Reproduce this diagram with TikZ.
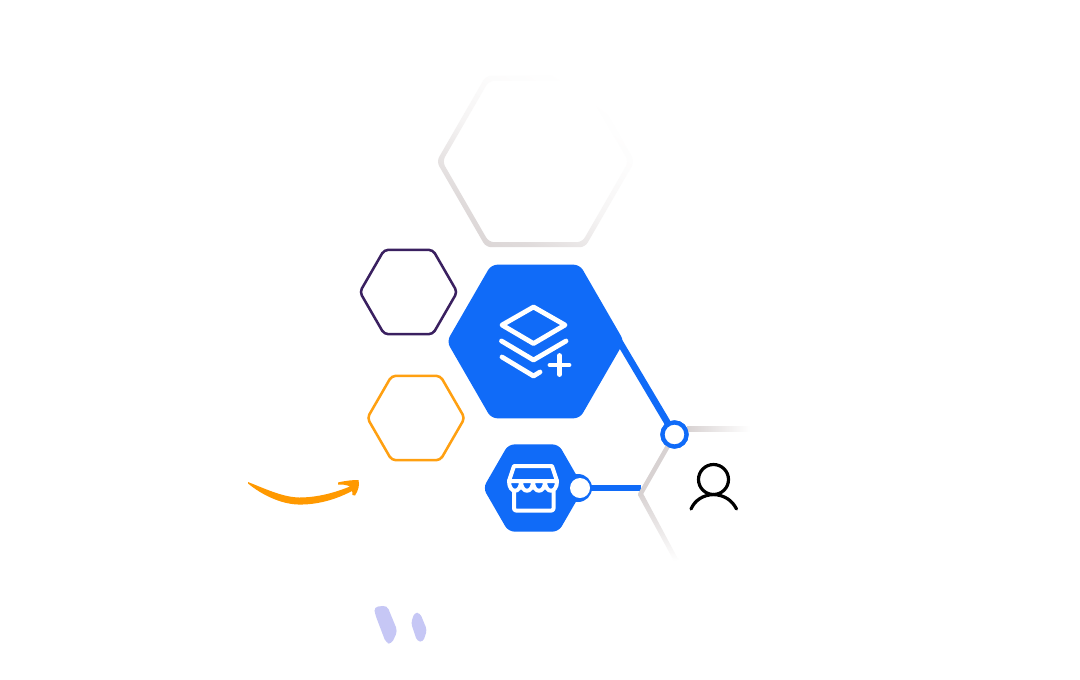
\documentclass[tikz,border=0pt]{standalone}
\usetikzlibrary{shapes.geometric}
\definecolor{brandblue}{HTML}{106BF8}
\definecolor{softgrey}{HTML}{D8D2D2}
\definecolor{plum}{HTML}{3A2060}
\definecolor{amber}{HTML}{FFA011}
\definecolor{smile}{HTML}{FF9900}
\definecolor{lav}{HTML}{C6C7F5}
\pgfdeclarehorizontalshading{hexfade}{100bp}{color(0bp)=(softgrey);color(16bp)=(softgrey);color(30bp)=(softgrey!80!white);color(48bp)=(softgrey!24!white);color(62bp)=(softgrey!7!white);color(74bp)=(white);color(100bp)=(white)}
\newcommand\hexring[3]{({#1-#3},#2) -- ({#1-#3/2},{#2-.866*#3}) -- ({#1+#3/2},{#2-.866*#3}) -- ({#1+#3},#2) -- ({#1+#3/2},{#2+.866*#3}) -- ({#1-#3/2},{#2+.866*#3}) -- cycle}
\tikzset{
  hexbase/.style={regular polygon,regular polygon sides=6,inner sep=0pt,outer sep=0pt},
  bluehex/.style={hexbase,fill=brandblue,rounded corners=4.5pt},
  linehex/.style={hexbase,draw=#1,fill=white,line width=1.9pt,rounded corners=3pt},
  blueline/.style={draw=brandblue,line width=5pt},
  greyline/.style={draw=softgrey,line width=3.4pt,line cap=round,line join=round},
  whiteicon/.style={draw=white,line width=3.6pt,line cap=round,line join=round},
  shopicon/.style={draw=white,line width=3pt,line cap=round,line join=round},
  personicon/.style={draw=black,line width=2.4pt,line cap=round},
  hubring/.style={circle,fill=white,draw=brandblue,inner sep=0pt,outer sep=0pt}
}
\begin{document}
\begin{tikzpicture}[x=0.75pt,y=-0.75pt]
\useasboundingbox (0,0) rectangle (1080,679);
\fill[white] (0,0) rectangle (1080,679);
% large faded hexagon
\shade[even odd rule,rounded corners=4pt,shading=hexfade,shading angle=55]
  \hexring{535.5}{161.5}{99} \hexring{535.5}{161.5}{93.2};
% coloured outlines
\node[linehex=plum,minimum size=73pt] (plumhex) at (408.5,292) {};
\node[linehex=amber,minimum size=73pt] (amberhex) at (416,418) {};
% main hexagon
\node[bluehex,minimum size=133pt] (mainhex) at (535.5,341.5) {};
% small hexagon
\node[bluehex,minimum size=75.5pt] (shophex) at (533.5,488) {};
\coordinate (mainlink) at (618,339.3);
\coordinate (junction) at (641,488);
% connectors
\node[hubring,line width=3.2pt,minimum size=18pt] (hub) at (674.5,434.5) {};
\node[circle,fill=white,inner sep=0pt,minimum size=15pt] (shopdot) at (580,488) {};
\fill[brandblue] (578,488) circle (14);
\draw[blueline] (mainlink) -- (hub);
\draw[blueline] (shopdot) -- (junction);
\coordinate (bend) at (640.5,494);
\draw[greyline] (hub) -- (bend);
\shade[top color=softgrey,bottom color=white,middle color=softgrey!55]
  (638,495) -- (642.5,492.5) -- (678,559) -- (674,561) -- cycle;
\fill[softgrey] (bend) circle (2.3);
\shade[left color=softgrey,right color=white] (687,426) rectangle (750,431.5);
% nodes on top of their connectors
\node[hubring,line width=3.2pt,minimum size=18pt] (hubtop) at (hub) {};
\node[circle,fill=white,inner sep=0pt,minimum size=15pt] (shopdottop) at (shopdot) {};
% layers icon
\draw[whiteicon] (533.5,307) -- (565,325) -- (533.5,343.5) -- (502,325) -- cycle;
\draw[whiteicon] (501.5,341) -- (533.5,360) -- (566,341);
\draw[whiteicon] (502,357) -- (533.5,376) -- (540,372);
\draw[whiteicon] (550,365) -- (569,365) (559.5,355.5) -- (559.5,374.5);
% shop icon
\draw[shopicon] (514,466) -- (552,466) -- (557,481) -- (509,481) -- cycle;
\draw[shopicon] (509,481) .. controls (509,494) and (521,494) .. (521,481)
  .. controls (521,494) and (533,494) .. (533,481)
  .. controls (533,494) and (545,494) .. (545,481)
  .. controls (545,494) and (557,494) .. (557,481);
\draw[shopicon,rounded corners=1.5pt] (514,491) -- (514,510.5) -- (553.5,510.5) -- (553.5,491);
% person icon
\draw[personicon] (713.5,479.5) circle (15);
\draw[personicon] (691,509) .. controls (695,500) and (703,495) .. (713.5,494.5) .. controls (724,495) and (732,500) .. (736.5,509);
% smile
\fill[smile] (248,482) .. controls (268,490) and (283,497) .. (299,497.5) .. controls (318,497.5) and (335,492.5) .. (350,486.5) .. controls (346,484.5) and (342,484.5) .. (338,484.5) -- (338,482.5) .. controls (346,480.5) and (353,480) .. (358.5,480) .. controls (360,485) and (358,491) .. (355,495.5) -- (352.5,495) .. controls (352.5,493) and (352.5,492) .. (352,491) .. controls (335,500) and (316,505) .. (298,504.5) .. controls (281,504) and (262,495) .. (248,483.5) -- cycle;
% lavender marks
\fill[lav,rounded corners=3pt] (374,607) -- (387,605.5) -- (397.5,631) -- (391.5,644) -- (386,643) -- (375,614) -- cycle;
\fill[lav,rounded corners=2.5pt] (411,623) -- (414.5,612.5) -- (420,613) -- (427,630) -- (423,642) -- (417,641) -- cycle;
\end{tikzpicture}
\end{document}
